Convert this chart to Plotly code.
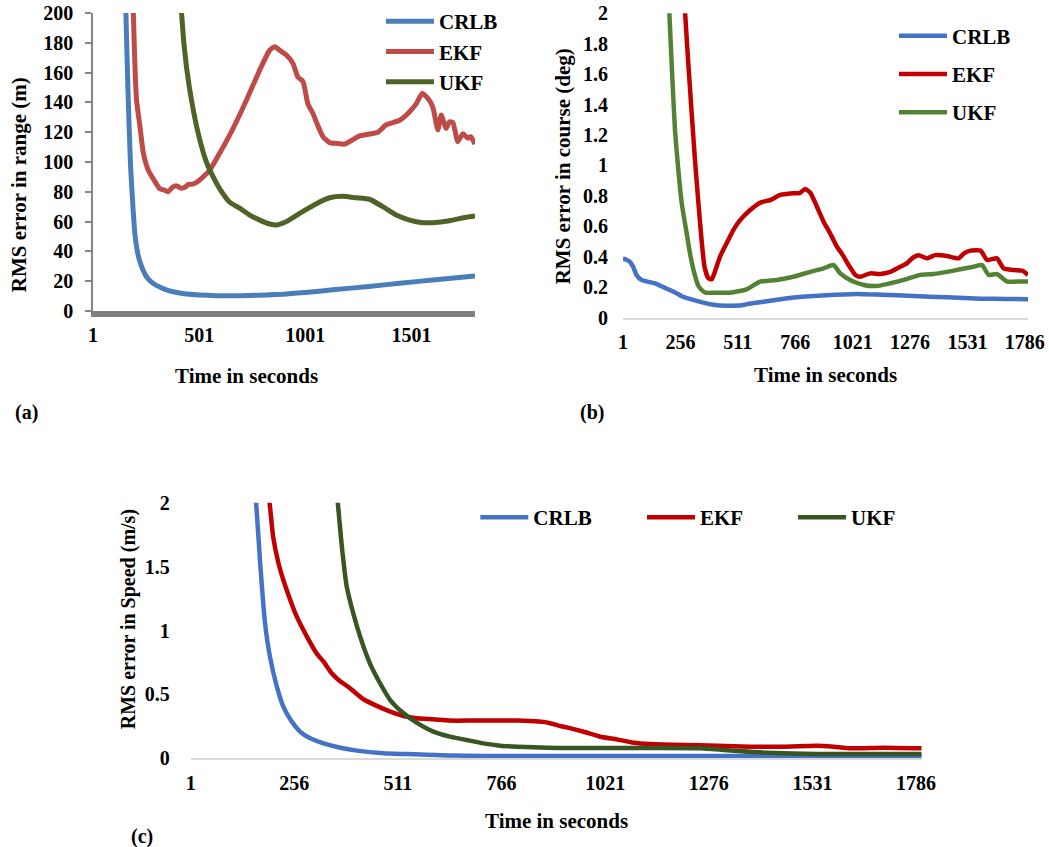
import plotly.graph_objects as go

W, H = 1049, 847
FONT = "Liberation Serif"

# ---------------- data ----------------
# (a) RMS error in range (m)
t_a_crlb = [1, 130, 156, 167, 178, 190, 198, 210, 222, 238, 253, 275, 300, 340, 378, 430, 500, 583,
            660, 739, 820, 896, 1000, 1131, 1300, 1445, 1600, 1800]
crlb_a = [3000, 420, 200, 142, 97, 68, 52, 40, 33, 27, 23, 19.5, 17.2, 14.5, 12.9, 11.6, 10.8, 10.3,
          10.2, 10.4, 10.8, 11.3, 12.4, 14.2, 16.5, 18.6, 20.8, 23.5]
t_a_ekf = [1, 150, 191, 206, 222, 238, 261, 293, 316, 340, 355, 375, 394, 415, 434, 450, 465, 485, 504,
           551, 598, 661, 724, 786, 833, 857, 880, 912, 943, 966, 990, 1013, 1037, 1061, 1084, 1115,
           1147, 1186, 1225, 1256, 1303, 1343, 1382, 1445, 1492, 1523, 1551, 1578, 1601, 1625, 1641,
           1664, 1680, 1696, 1719, 1743, 1766, 1780, 1800]
ekf_a = [2000, 500, 200, 141.6, 124, 106, 94.6, 86.8, 82, 81, 80, 83, 84, 82.5, 83, 85, 85, 86, 88,
         94.6, 106, 122.6, 141.6, 161.7, 175, 177.4, 175, 171.8, 166, 157, 154, 139, 132.6, 124, 117, 113,
         112.5, 112, 115, 117.5, 118.8, 120, 125, 128, 133.8, 139, 146, 142.7, 137, 121.5, 131.5,
         122.6, 127, 126.4, 113.6, 119, 116, 117, 112]
t_a_ukf = [1, 300, 418, 441, 473, 504, 535, 567, 598, 645, 692, 739, 786, 833, 865, 912, 974, 1053,
           1115, 1178, 1241, 1303, 1366, 1429, 1492, 1554, 1601, 1680, 1758, 1800]
ukf_a = [5000, 800, 200, 164, 135, 114.8, 100, 90, 82, 73, 69, 64.4, 61, 58.4, 57.7, 60, 65.5, 72,
         76, 77, 76, 75, 70, 64.4, 61, 59.3, 59.3, 60.6, 62.9, 63.8]
ticks_a = [1, 501, 1001, 1501]

# (b) RMS error in course (deg)
t_b_crlb = [1, 16, 31, 46, 61, 83, 110, 143, 180, 239, 262, 298, 358, 410, 460, 529, 560, 625, 700,
            773, 850, 921, 1040, 1144, 1292, 1440, 1589, 1700, 1800]
crlb_b = [0.389, 0.38, 0.367, 0.334, 0.28, 0.247, 0.236, 0.225, 0.2, 0.16, 0.14, 0.122, 0.098, 0.082,
          0.078, 0.08, 0.09, 0.104, 0.12, 0.133, 0.142, 0.148, 0.155, 0.15, 0.141, 0.133, 0.124,
          0.122, 0.12]
t_b_ekf = [1, 200, 277, 292, 320, 335, 350, 363, 380, 395, 409, 432, 462, 491, 521, 566, 610, 655,
           699, 744, 788, 810, 833, 862, 892, 921, 951, 973, 1003, 1033, 1055, 1099, 1144, 1188, 1233,
           1262, 1285, 1314, 1351, 1388, 1440, 1492, 1514, 1544, 1589, 1618, 1662, 1692, 1737, 1774,
           1800]
ekf_b = [15, 4, 2.0, 1.65, 1.05, 0.77, 0.51, 0.334, 0.258, 0.251, 0.30, 0.40, 0.49, 0.575, 0.64,
         0.707, 0.755, 0.772, 0.806, 0.816, 0.82, 0.845, 0.82, 0.73, 0.63, 0.553, 0.466, 0.42, 0.345,
         0.28, 0.268, 0.29, 0.286, 0.30, 0.334, 0.356, 0.389, 0.41, 0.389, 0.41, 0.404, 0.389, 0.42,
         0.44, 0.44, 0.378, 0.389, 0.323, 0.312, 0.308, 0.28]
t_b_ukf = [1, 150, 207, 220, 232, 245, 262, 284, 300, 318, 335, 351, 370, 417, 476, 550, 610, 684,
           758, 833, 892, 936, 966, 1010, 1070, 1129, 1188, 1248, 1322, 1381, 1440, 1499, 1559, 1596,
           1625, 1662, 1707, 1752, 1800]
ukf_b = [12, 4, 2.0, 1.58, 1.23, 1.0, 0.75, 0.553, 0.41, 0.29, 0.21, 0.18, 0.163, 0.163, 0.163,
         0.185, 0.236, 0.247, 0.268, 0.30, 0.323, 0.345, 0.29, 0.247, 0.214, 0.207, 0.225, 0.247,
         0.28, 0.286, 0.30, 0.317, 0.334, 0.345, 0.28, 0.286, 0.236, 0.236, 0.236]
ticks_bc = [1, 256, 511, 766, 1021, 1276, 1531, 1786]
yticks_b = [0, 0.2, 0.4, 0.6, 0.8, 1, 1.2, 1.4, 1.6, 1.8, 2]
yticklabels_b = ["0", "0.2", "0.4", "0.6", "0.8", "1", "1.2", "1.4", "1.6", "1.8", "2"]

# (c) RMS error in Speed (m/s)
t_c_crlb = [1, 120, 162, 172, 184, 196, 213, 229, 246, 270, 295, 328, 369, 410, 475, 557, 639, 804,
            1200, 1600, 1800]
crlb_c = [8, 3.5, 2.0, 1.526, 1.056, 0.795, 0.561, 0.404, 0.305, 0.209, 0.156, 0.117, 0.083, 0.06,
          0.039, 0.031, 0.021, 0.018, 0.018, 0.017, 0.016]
t_c_ekf = [1, 150, 195, 204, 217, 229, 246, 262, 287, 311, 328, 348, 365, 393, 426, 459, 492, 525,
           557, 598, 639, 700, 804, 836, 869, 886, 910, 927, 968, 1009, 1050, 1091, 1132, 1214, 1296,
           1378, 1460, 1542, 1583, 1624, 1706, 1800]
ekf_c = [6, 3, 2.0, 1.73, 1.526, 1.395, 1.239, 1.108, 0.952, 0.82, 0.756, 0.665, 0.613, 0.548, 0.462,
         0.41, 0.365, 0.331, 0.313, 0.305, 0.295, 0.295, 0.295, 0.292, 0.285, 0.274, 0.253, 0.242,
         0.208, 0.169, 0.148, 0.122, 0.112, 0.104, 0.099, 0.091, 0.091, 0.099, 0.091, 0.078, 0.083,
         0.078]
t_c_ukf = [1, 250, 363, 373, 385, 401, 418, 442, 467, 492, 525, 557, 598, 639, 680, 721, 763, 804,
           845, 910, 968, 1132, 1255, 1337, 1419, 1542, 1706, 1800]
ukf_c = [20, 6, 2.0, 1.656, 1.343, 1.135, 0.952, 0.743, 0.587, 0.456, 0.352, 0.279, 0.209, 0.17,
         0.143, 0.117, 0.099, 0.091, 0.086, 0.08, 0.08, 0.08, 0.078, 0.06, 0.044, 0.034, 0.034, 0.034]
yticks_c = [0, 0.5, 1, 1.5, 2]
yticklabels_c = ["0", "0.5", "1", "1.5", "2"]

# ---------------- figure ----------------
fig = go.Figure()

def add(x, y, name, color, width, xa, ya, legend):
    fig.add_trace(go.Scatter(x=x, y=y, name=name, mode="lines",
                             line=dict(color=color, width=width, shape="spline", smoothing=0.5),
                             xaxis=xa, yaxis=ya, legend=legend, legendgroup=legend + name))

add(t_a_crlb, crlb_a, "CRLB", "#4A7EBB", 5, "x", "y", "legend")
add(t_a_ekf, ekf_a, "EKF", "#BE4B48", 5, "x", "y", "legend")
add(t_a_ukf, ukf_a, "UKF", "#4F6228", 5, "x", "y", "legend")

add(t_b_crlb, crlb_b, "CRLB", "#4472C4", 4.5, "x2", "y2", "legend2")
add(t_b_ekf, ekf_b, "EKF", "#C00000", 4.5, "x2", "y2", "legend2")
add(t_b_ukf, ukf_b, "UKF", "#548235", 4.5, "x2", "y2", "legend2")

add(t_c_crlb, crlb_c, "CRLB", "#4472C4", 4.5, "x3", "y3", "legend3")
add(t_c_ekf, ekf_c, "EKF", "#C00000", 4.5, "x3", "y3", "legend3")
add(t_c_ukf, ukf_c, "UKF", "#375623", 4.5, "x3", "y3", "legend3")

ITEMW = 48
TEXTGAP = ITEMW + 10
# legend item widths for horizontal legend (c)
fig.data[6].legendwidth = 166.7 - TEXTGAP - 5
fig.data[7].legendwidth = 151 - TEXTGAP - 5

tickfont = dict(family=FONT, size=20, color="black", weight="bold")
legfont = dict(family=FONT, size=21, color="black", weight="bold")


def fx(p):
    return p / W


def fy(p):
    return 1 - p / H


def xd(a, b):
    return [fx(a), fx(b)]


def yd(bottom_px, top_px):
    return [fy(bottom_px), fy(top_px)]


common_axis = dict(showgrid=False, zeroline=False, tickfont=tickfont, ticklabeloverflow="allow")

fig.update_layout(
    width=W, height=H,
    margin=dict(l=0, r=0, t=0, b=0, autoexpand=False),
    paper_bgcolor="white", plot_bgcolor="white",
    font=dict(family=FONT, color="black"),
    xaxis=dict(domain=xd(93, 475), range=[1, 1800], tickvals=ticks_a, ticktext=[str(v) for v in ticks_a],
               showline=True, linecolor="#808080", linewidth=6, ticks="",
               ticklabelstandoff=1, anchor="y", **common_axis),
    yaxis=dict(domain=yd(311, 13), range=[0, 200], tickvals=list(range(0, 201, 20)),
               showline=True, linecolor="#868686", linewidth=1.5, ticks="outside", ticklen=6,
               tickcolor="#868686", tickwidth=1.5, ticklabelstandoff=8, anchor="x", **common_axis),
    xaxis2=dict(domain=xd(623, 1028), range=[1, 1800], tickvals=ticks_bc,
                ticktext=[str(v) for v in ticks_bc], showline=True, linecolor="#D9D9D9", linewidth=1.5,
                ticks="", ticklabelstandoff=6, anchor="y2", **common_axis),
    yaxis2=dict(domain=yd(317.5, 13.3), range=[0, 2], tickvals=yticks_b, ticktext=yticklabels_b,
                showline=False, ticks="", ticklabelstandoff=14, anchor="x2", **common_axis),
    xaxis3=dict(domain=xd(190.7, 921.7), range=[1, 1800], tickvals=ticks_bc,
                ticktext=[str(v) for v in ticks_bc], showline=True, linecolor="#D9D9D9", linewidth=1.5,
                ticks="", ticklabelstandoff=6, anchor="y3", **common_axis),
    yaxis3=dict(domain=yd(758.3, 502.7), range=[0, 2], tickvals=yticks_c, ticktext=yticklabels_c,
                showline=False, ticks="", ticklabelstandoff=20, anchor="x3", **common_axis),
    legend=dict(x=fx(439 - TEXTGAP), y=fy(1), xanchor="left", yanchor="top", bgcolor="rgba(0,0,0,0)",
                font=legfont, traceorder="normal", itemwidth=ITEMW),
    legend2=dict(x=fx(952 - TEXTGAP), y=fy(15.5), xanchor="left", yanchor="top", bgcolor="rgba(0,0,0,0)",
                 font=legfont, traceorder="grouped", tracegroupgap=8, itemwidth=ITEMW),
    legend3=dict(x=fx(533.3 - TEXTGAP), y=fy(497), xanchor="left", yanchor="top", orientation="h",
                 bgcolor="rgba(0,0,0,0)", font=legfont, itemwidth=ITEMW),
)

annots = [
    ("RMS error in range (m)", 18.5, 184.7, -90, 21),
    ("Time in seconds", 246, 376, 0, 21),
    ("(a)", 26, 412, 0, 20),
    ("RMS error in course (deg)", 563, 166.3, -90, 21),
    ("Time in seconds", 825, 375, 0, 21),
    ("(b)", 592, 412, 0, 20),
    ("RMS error in Speed (m/s)", 128.3, 619, -90, 20),
    ("Time in seconds", 556, 821, 0, 21),
    ("(c)", 141.7, 836, 0, 20),
]
for text, px, py, ang, fs in annots:
    fig.add_annotation(text=text, x=fx(px), y=fy(py), xref="paper", yref="paper",
                       xanchor="center", yanchor="middle", showarrow=False, textangle=ang,
                       font=dict(family=FONT, size=fs, color="black", weight="bold"))

fig.write_html("out.html", config={"displayModeBar": False},
               post_script="document.body.style.margin='0';")
